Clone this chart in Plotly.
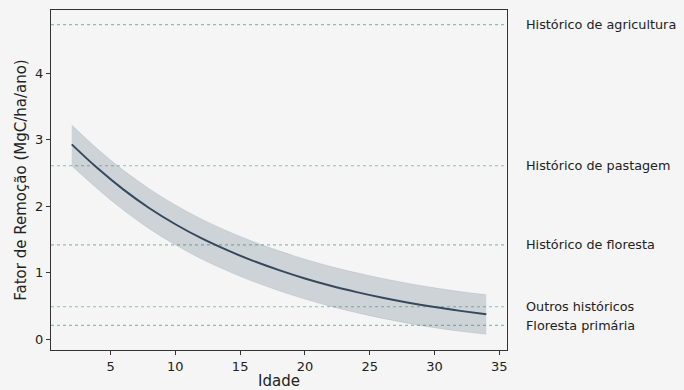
import plotly.graph_objects as go

idade = [2, 4, 6, 8, 10, 12, 14, 16, 18, 20, 22, 24, 26, 28, 30, 32, 34]
fator = [2.93, 2.57, 2.25, 1.97, 1.73, 1.52, 1.34, 1.18, 1.04, 0.915, 0.805, 0.71, 0.625, 0.55, 0.485, 0.428, 0.376]
superior = [3.22, 2.86, 2.54, 2.26, 2.02, 1.81, 1.63, 1.47, 1.33, 1.205, 1.095, 1.00, 0.915, 0.84, 0.775, 0.718, 0.67]
inferior = [2.61, 2.26, 1.94, 1.66, 1.42, 1.21, 1.03, 0.87, 0.73, 0.605, 0.495, 0.40, 0.315, 0.24, 0.175, 0.12, 0.076]

ref_nomes = ["Histórico de agricultura", "Histórico de pastagem", "Histórico de floresta",
             "Outros históricos", "Floresta primária"]
ref_valores = [4.73, 2.61, 1.42, 0.49, 0.21]

font = "DejaVu Sans"
fig = go.Figure()
fig.add_trace(go.Scatter(x=idade, y=superior, mode="lines",
                         line=dict(width=0.8, color="rgba(52,73,94,0.15)", shape="spline"),
                         showlegend=False, hoverinfo="skip"))
fig.add_trace(go.Scatter(x=idade, y=inferior, mode="lines",
                         line=dict(width=0.8, color="rgba(52,73,94,0.15)", shape="spline"),
                         fill="tonexty", fillcolor="rgba(52,73,94,0.2)", showlegend=False, hoverinfo="skip"))
fig.add_trace(go.Scatter(x=idade, y=fator, mode="lines", line=dict(width=2, color="#34495e", shape="spline"),
                         showlegend=False))

for nome, v in zip(ref_nomes, ref_valores):
    fig.add_shape(type="line", xref="paper", x0=0, x1=1, yref="y", y0=v, y1=v,
                  line=dict(color="#86c2b0", width=1.1, dash="dot"), layer="below")
    fig.add_annotation(xref="paper", x=1, xshift=17, yref="y", y=v, text=nome, showarrow=False,
                       xanchor="left", yanchor="middle", font=dict(family=font, size=12.8, color="#222"))

fig.update_layout(
    width=684, height=390,
    margin=dict(l=51, r=177, t=10, b=40),
    paper_bgcolor="#f5f5f5", plot_bgcolor="#f5f5f5",
    font=dict(family=font, size=13, color="#222"),
    xaxis=dict(range=[0.4, 35.6], tickvals=[5, 10, 15, 20, 25, 30, 35], showgrid=False, zeroline=False,
               showline=True, linecolor="#333", linewidth=1, mirror=True, ticks="outside", ticklen=4,
               tickcolor="#333", automargin=False,
               title=dict(text="Idade", font=dict(size=15), standoff=2)),
    yaxis=dict(range=[-0.16, 4.95], tickvals=[0, 1, 2, 3, 4], showgrid=False, zeroline=False,
               showline=True, linecolor="#333", linewidth=1, mirror=True, ticks="outside", ticklen=4,
               tickcolor="#333", automargin=False,
               title=dict(text="Fator de Remoção (MgC/ha/ano)", font=dict(size=15), standoff=4)),
)
fig.write_html("out.html")
